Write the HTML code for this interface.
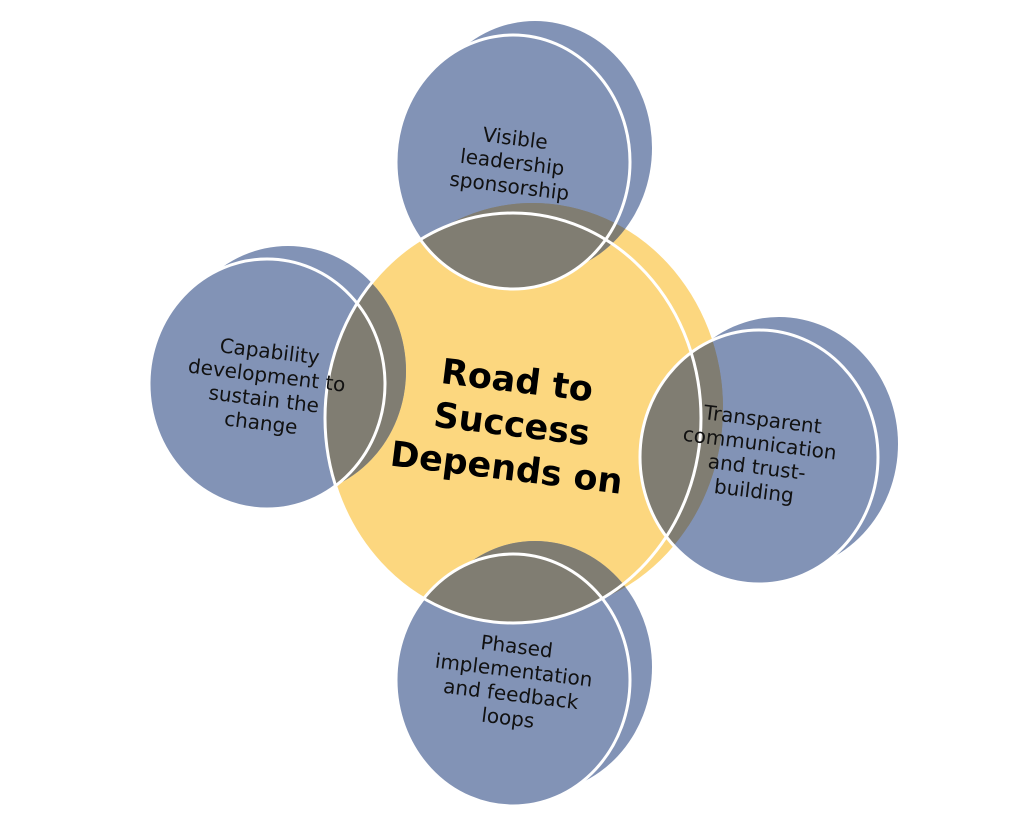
<!DOCTYPE html>
<html><head><meta charset="utf-8"><style>
html,body{margin:0;padding:0;background:#fff;}
svg{display:block;}
text{font-family:"DejaVu Sans","Liberation Sans",sans-serif;}
</style></head><body>
<svg width="1024" height="830" viewBox="0 0 1024 830" xmlns="http://www.w3.org/2000/svg">
<defs>
<clipPath id="yc">
<ellipse cx="533" cy="408" rx="190" ry="205"/>
<ellipse cx="513" cy="418" rx="188" ry="205"/>
</clipPath>
</defs>
<ellipse cx="533" cy="408" rx="190" ry="205" fill="#fcd77f"/>
<ellipse cx="513" cy="418" rx="188" ry="205" fill="#fcd77f"/>
<g fill="#8293b6">
<ellipse cx="535" cy="148" rx="117" ry="127"/>
<ellipse cx="513" cy="162" rx="117" ry="127"/>
<ellipse cx="779" cy="444" rx="119" ry="127"/>
<ellipse cx="759" cy="457" rx="119" ry="127"/>
<ellipse cx="535" cy="667" rx="117" ry="126"/>
<ellipse cx="513" cy="680" rx="117" ry="126"/>
<ellipse cx="288" cy="371" rx="118" ry="125"/>
<ellipse cx="267" cy="384" rx="118" ry="125"/>
</g>
<g fill="#807d72" clip-path="url(#yc)">
<ellipse cx="535" cy="148" rx="117" ry="127"/>
<ellipse cx="513" cy="162" rx="117" ry="127"/>
<ellipse cx="779" cy="444" rx="119" ry="127"/>
<ellipse cx="759" cy="457" rx="119" ry="127"/>
<ellipse cx="535" cy="667" rx="117" ry="126"/>
<ellipse cx="513" cy="680" rx="117" ry="126"/>
<ellipse cx="288" cy="371" rx="118" ry="125"/>
<ellipse cx="267" cy="384" rx="118" ry="125"/>
</g>
<g fill="none" stroke="#fff" stroke-width="3">
<ellipse cx="513" cy="418" rx="188" ry="205"/>
<ellipse cx="513" cy="162" rx="117" ry="127"/>
<ellipse cx="759" cy="457" rx="119" ry="127"/>
<ellipse cx="513" cy="680" rx="117" ry="126"/>
<ellipse cx="267" cy="384" rx="118" ry="125"/>
</g>
<g transform="rotate(7 512 423)" font-weight="bold" font-size="35" text-anchor="middle" fill="#000">
<text x="512" y="392">Road to</text>
<text x="512" y="436">Success</text>
<text x="512" y="480">Depends on</text>
</g>
<g font-size="20" text-anchor="middle" fill="#111">
<g transform="rotate(7 512 165)">
<text x="512" y="145">Visible</text>
<text x="512" y="169">leadership</text>
<text x="512" y="193">sponsorship</text>
</g>
<g transform="rotate(7 758 458)">
<text x="758" y="426">Transparent</text>
<text x="758" y="450">communication</text>
<text x="758" y="474">and trust-</text>
<text x="758" y="498">building</text>
</g>
<g transform="rotate(7 512 685)">
<text x="512" y="653">Phased</text>
<text x="512" y="677">implementation</text>
<text x="512" y="701">and feedback</text>
<text x="512" y="725">loops</text>
</g>
<g transform="rotate(7 265 390)">
<text x="265" y="358">Capability</text>
<text x="265" y="382">development to</text>
<text x="265" y="406">sustain the</text>
<text x="265" y="430">change</text>
</g>
</g>
</svg>
</body></html>
